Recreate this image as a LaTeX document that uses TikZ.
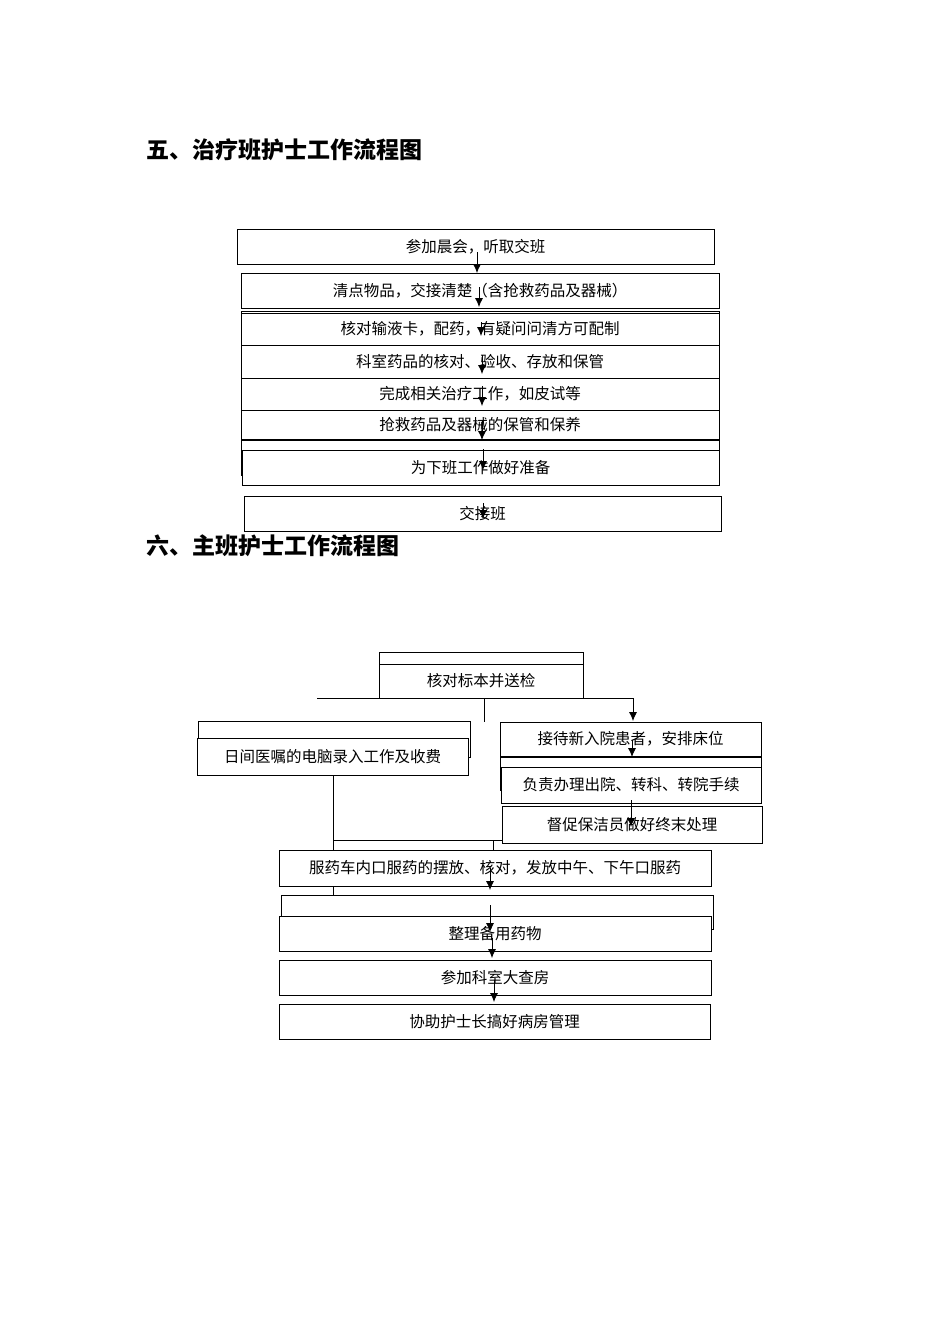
\documentclass[tikz,border=0pt]{standalone}
\usepackage{fontspec}
\setmainfont{Noto Sans CJK SC}
\usetikzlibrary{arrows.meta}
\begin{document}
\begin{tikzpicture}[x=1pt,y=-1pt,
  bx/.style={draw,fill=white,line width=0.8pt,inner sep=0pt},
  arr/.style={-{Latex[length=9pt,width=8pt]},line width=0.8pt},
  ln/.style={line width=0.8pt},
  font=\fontsize{15.5}{17}\selectfont]
\useasboundingbox (0,0) rectangle (950,1344);
\newcommand{\bbox}[6]{\draw[bx] (#2,#3) rectangle (#4,#5); \node (#1) at ({(#2+#4)/2},{(#3+#5)/2}) {#6};}
\node[anchor=west,font=\fontsize{23}{25}\selectfont\bfseries] (t1) at (143,150) {五、治疗班护士工作流程图};
\node[anchor=west,font=\fontsize{23}{25}\selectfont\bfseries] (t2) at (143,546) {六、主班护士工作流程图};
% top chart
\bbox{a1}{237}{229}{714}{264}{参加晨会，听取交班}
\bbox{a2}{241}{273}{719}{308}{清点物品，交接清楚（含抢救药品及器械）}
\draw[bx] (241,311) rectangle (719,330);
\bbox{a3}{241}{313}{719}{345}{核对输液卡，配药，有疑问问清方可配制}
\bbox{a4}{241}{345}{719}{378}{科室药品的核对、验收、存放和保管}
\bbox{a5}{241}{378}{719}{410}{完成相关治疗工作，如皮试等}
\bbox{a6}{241}{410}{719}{439}{抢救药品及器械的保管和保养}
\draw[bx] (241,440) rectangle (719,475);
\bbox{a7}{242}{450}{719}{485}{为下班工作做好准备}
\bbox{a8}{244}{496}{721}{531}{交接班}
\coordinate (c1) at (477,252); \coordinate (c2) at (479,287);
\draw[arr] (c1) -- (477,273);
\draw[arr] (c2) -- (479,307);
\draw[arr] (481,322) -- (481,336);
\draw[arr] (482,355) -- (482,374);
\draw[arr] (482,386) -- (482,406);
\draw[arr] (482,420) -- (482,440);
\draw[arr] (483,449) -- (483,470);
\draw[arr] (483,503) -- (483,519);
% bottom chart
\draw[bx] (379,652) rectangle (583,690);
\bbox{b1}{379}{664}{583}{698}{核对标本并送检}
\draw[ln] (317,698) -- (633,698);
\draw[ln] (484,698) -- (484,722);
\draw[arr] (633,698) -- (633,721);
\draw[bx] (198,721) rectangle (470,757);
\bbox{b2}{197}{738}{468}{775}{日间医嘱的电脑录入工作及收费}
\draw[ln] (333,775) -- (333,895);
\draw[ln] (333,840) -- (503,840);
\draw[ln] (493,840) -- (493,850);
\bbox{r1}{500}{722}{761}{756}{接待新入院患者，安排床位}
\draw[bx] (500,757) rectangle (761,790);
\bbox{r2}{501}{767}{761}{803}{负责办理出院、转科、转院手续}
\bbox{r3}{502}{806}{762}{843}{督促保洁员做好终末处理}
\draw[arr] (632,740) -- (632,757);
\draw[arr] (631,800) -- (631,827);
\bbox{m1}{279}{850}{711}{886}{服药车内口服药的摆放、核对，发放中午、下午口服药}
\draw[bx] (281,895) rectangle (713,929);
\bbox{m2}{279}{916}{711}{951}{整理备用药物}
\bbox{m3}{279}{960}{711}{995}{参加科室大查房}
\bbox{m4}{279}{1004}{710}{1039}{协助护士长搞好病房管理}
\draw[arr] (490,868) -- (490,890);
\draw[arr] (490,905) -- (490,932);
\draw[arr] (492,938) -- (492,958);
\draw[arr] (494,980) -- (494,1002);
\end{tikzpicture}
\end{document}
